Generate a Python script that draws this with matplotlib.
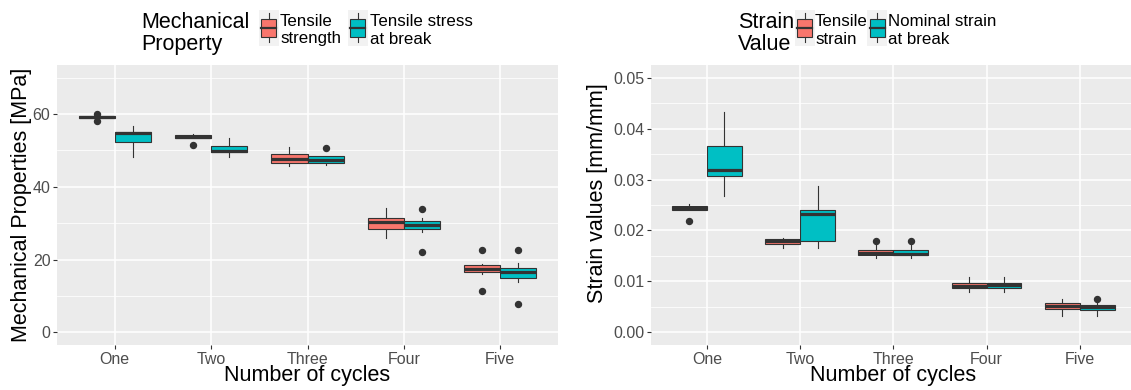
import matplotlib
matplotlib.use("Agg")
import matplotlib.pyplot as plt
from matplotlib.patches import Rectangle
from matplotlib.lines import Line2D

plt.rcParams['font.family'] = ['Liberation Sans', 'DejaVu Sans']

W, H = 1131, 390

cycles = ["One", "Two", "Three", "Four", "Five"]

# ---- Left panel: mechanical properties [MPa] ----
mech_labels = ["Tensile\nstrength", "Tensile stress\nat break"]
ts_lo   = [58.9, 53.5, 45.8, 26.0, 16.0]
ts_q1   = [59.0, 53.5, 46.5, 28.5, 16.5]
ts_med  = [59.3, 53.8, 47.7, 30.3, 17.4]
ts_q3   = [59.6, 54.2, 49.0, 31.5, 18.4]
ts_hi   = [59.7, 54.6, 50.9, 34.1, 18.8]
ts_fl   = [[60.1, 58.2], [51.5], [], [], [22.7, 11.3]]

tsb_lo  = [48.1, 48.1, 46.0, 27.6, 13.9]
tsb_q1  = [52.2, 49.5, 46.5, 28.5, 14.8]
tsb_med = [54.7, 49.9, 47.5, 29.5, 16.6]
tsb_q3  = [55.2, 51.1, 48.4, 30.6, 17.7]
tsb_hi  = [56.7, 53.5, 48.4, 31.5, 19.1]
tsb_fl  = [[], [], [50.6], [34.0, 22.2], [22.7, 7.7]]

# ---- Right panel: strain values [mm/mm] ----
strain_labels = ["Tensile\nstrain", "Nominal strain\nat break"]
st_lo   = [0.0241, 0.0166, 0.0145, 0.0080, 0.0031]
st_q1   = [0.0241, 0.0174, 0.0151, 0.0087, 0.0046]
st_med  = [0.0245, 0.0180, 0.0156, 0.0091, 0.0051]
st_q3   = [0.0248, 0.0184, 0.0162, 0.0097, 0.0058]
st_hi   = [0.0251, 0.0186, 0.0171, 0.0109, 0.0065]
st_fl   = [[0.0219], [], [0.0179], [], []]

ns_lo   = [0.0268, 0.0166, 0.0145, 0.0080, 0.0031]
ns_q1   = [0.0306, 0.0179, 0.0151, 0.0087, 0.0044]
ns_med  = [0.0319, 0.0232, 0.0154, 0.0092, 0.0049]
ns_q3   = [0.0366, 0.0241, 0.0162, 0.0097, 0.0053]
ns_hi   = [0.0432, 0.0287, 0.0171, 0.0109, 0.0057]
ns_fl   = [[], [], [0.0179], [], [0.0065]]

RED = "#F8766D"
TEAL = "#00BFC4"
DARK = "#333333"
PANEL = "#EBEBEB"

fig = plt.figure(figsize=(W / 100, H / 100), dpi=100)


def px_axes(x0, x1, ytop, ybot):
    return fig.add_axes([x0 / W, (H - ybot) / H, (x1 - x0) / W, (ybot - ytop) / H])


def stats(lo, q1, med, q3, hi, fl):
    return [dict(whislo=a, q1=b, med=c, q3=d, whishi=e, fliers=f)
            for a, b, c, d, e, f in zip(lo, q1, med, q3, hi, fl)]


def draw_boxes(ax, st, color, offset):
    pos = [i + 1 + offset for i in range(len(st))]
    bp = ax.bxp(st, positions=pos, widths=0.375, patch_artist=True,
                showcaps=False, manage_ticks=False,
                boxprops=dict(facecolor=color, edgecolor=DARK, linewidth=0.8),
                medianprops=dict(color=DARK, linewidth=2.3, solid_capstyle='butt'),
                whiskerprops=dict(color=DARK, linewidth=0.8),
                flierprops=dict(marker='o', markerfacecolor=DARK,
                                markeredgecolor=DARK, markersize=4.3))
    for b in bp['boxes']:
        b.set_zorder(3)
    for m in bp['medians']:
        m.set_zorder(4)
    return bp


def style_axes(ax, ylim, major, minor, fmt, xlim):
    ax.set_facecolor(PANEL)
    for s in ax.spines.values():
        s.set_visible(False)
    ax.set_xlim(*xlim)
    ax.set_ylim(*ylim)
    ax.set_xticks(range(1, len(cycles) + 1))
    ax.set_xticklabels(cycles)
    ax.set_yticks(major)
    ax.set_yticklabels([fmt(v) for v in major])
    ax.set_yticks(minor, minor=True)
    ax.grid(which='major', color='white', linewidth=1.1)
    ax.grid(which='minor', axis='y', color='white', linewidth=0.55)
    ax.set_axisbelow(True)
    ax.tick_params(which='major', length=3.2, width=0.8, color=DARK,
                   labelcolor='#4D4D4D', labelsize=11.5, pad=1.5)
    ax.tick_params(which='minor', length=0)


# Left axes
axL = px_axes(57, 558, 65, 345)
style_axes(axL, (-3.5, 73.5), [0, 20, 40, 60], [10, 30, 50, 70],
           lambda v: f"{v:d}", (0.4, 5.6))
draw_boxes(axL, stats(ts_lo, ts_q1, ts_med, ts_q3, ts_hi, ts_fl), RED, -0.1875)
draw_boxes(axL, stats(tsb_lo, tsb_q1, tsb_med, tsb_q3, tsb_hi, tsb_fl), TEAL, 0.1875)

# Right axes
axR = px_axes(651, 1131, 65, 345)
style_axes(axR, (-0.0025, 0.0525), [0.0, 0.01, 0.02, 0.03, 0.04, 0.05],
           [0.005, 0.015, 0.025, 0.035, 0.045], lambda v: f"{v:.2f}", (0.4, 5.55))
draw_boxes(axR, stats(st_lo, st_q1, st_med, st_q3, st_hi, st_fl), RED, -0.1875)
draw_boxes(axR, stats(ns_lo, ns_q1, ns_med, ns_q3, ns_hi, ns_fl), TEAL, 0.1875)

TITLE_FS = 15.5
LEG_FS = 12.2

# Axis titles
fig.text(307.5 / W, (H - 381) / H, "Number of cycles", ha='center', va='baseline',
         fontsize=TITLE_FS, color='black')
fig.text(893.5 / W, (H - 381) / H, "Number of cycles", ha='center', va='baseline',
         fontsize=TITLE_FS, color='black')
fig.text(22 / W, (H - 205) / H, "Mechanical Properties [MPa]", ha='center', va='center',
         rotation=90, fontsize=TITLE_FS, color='black')
fig.text(598 / W, (H - 193) / H, "Strain values [mm/mm]", ha='center', va='center',
         rotation=90, fontsize=TITLE_FS, color='black')


def legend_key(cx, color):
    kw, kh = 20, 36
    ytop = 9.5
    kax = fig.add_axes([(cx - kw / 2) / W, (H - ytop - kh) / H, kw / W, kh / H])
    kax.set_xlim(0, 1)
    kax.set_ylim(0, 1)
    kax.axis('off')
    kax.add_patch(Rectangle((0, 0), 1, 1, facecolor='#F2F2F2', edgecolor='none'))
    kax.add_line(Line2D([0.5, 0.5], [0.1, 0.25], color=DARK, lw=0.8))
    kax.add_line(Line2D([0.5, 0.5], [0.75, 0.9], color=DARK, lw=0.8))
    kax.add_patch(Rectangle((0.125, 0.25), 0.75, 0.5, facecolor=color,
                            edgecolor=DARK, lw=0.8))
    kax.add_line(Line2D([0.125, 0.875], [0.5, 0.5], color=DARK, lw=1.6))


def legend(title_x, title, keys_x, labels_x, labels, colors):
    t1, t2 = title.split("\n")
    fig.text(title_x / W, (H - 28) / H, t1, fontsize=TITLE_FS, va='baseline')
    fig.text(title_x / W, (H - 50) / H, t2, fontsize=TITLE_FS, va='baseline')
    for kx, lx, lab, col in zip(keys_x, labels_x, labels, colors):
        legend_key(kx, col)
        l1, l2 = lab.split("\n")
        fig.text(lx / W, (H - 25.5) / H, l1, fontsize=LEG_FS, va='baseline')
        fig.text(lx / W, (H - 43.5) / H, l2, fontsize=LEG_FS, va='baseline')


legend(141.5, "Mechanical\nProperty", [268.5, 357.5], [280, 370], mech_labels, [RED, TEAL])
legend(738, "Strain\nValue", [804.5, 877.5], [815, 888], strain_labels, [RED, TEAL])

fig.savefig("out.png", dpi=100, facecolor='white')
